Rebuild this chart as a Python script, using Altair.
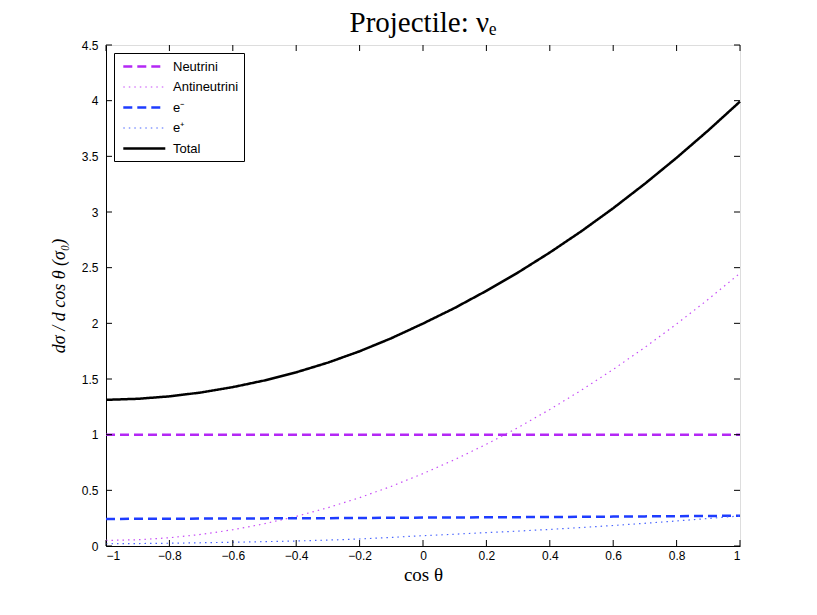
import altair as alt
import pandas as pd

cos_theta = [-1.0, -0.9, -0.8, -0.7, -0.6, -0.5, -0.4, -0.3, -0.2, -0.1, 0.0,
             0.1, 0.2, 0.3, 0.4, 0.5, 0.6, 0.7, 0.8, 0.9, 1.0]
neutrini = [1.0] * 21
antineutrini = [0.050, 0.056, 0.074, 0.104, 0.146, 0.200, 0.266, 0.344, 0.434, 0.536, 0.650,
                0.776, 0.914, 1.064, 1.226, 1.400, 1.586, 1.784, 1.994, 2.216, 2.450]
e_minus = [0.243, 0.244, 0.245, 0.246, 0.247, 0.248, 0.249, 0.250, 0.252, 0.253, 0.255,
           0.256, 0.258, 0.259, 0.261, 0.262, 0.264, 0.266, 0.268, 0.270, 0.272]
e_plus = [0.020, 0.022, 0.025, 0.029, 0.034, 0.039, 0.045, 0.053, 0.063, 0.077, 0.093,
          0.106, 0.120, 0.134, 0.149, 0.166, 0.184, 0.204, 0.225, 0.247, 0.270]
total = [1.313, 1.322, 1.344, 1.379, 1.427, 1.487, 1.560, 1.647, 1.749, 1.866, 1.998,
         2.138, 2.292, 2.457, 2.636, 2.828, 3.034, 3.254, 3.487, 3.733, 3.992]

series_names = ["Neutrini", "Antineutrini", "e\u207b", "e\u207a", "Total"]
series_values = [neutrini, antineutrini, e_minus, e_plus, total]
colors = ["#B428F5", "#C74DF7", "#1E3CFF", "#4A66FF", "#000000"]
dashes = [[9, 5], [1.5, 4], [9, 5], [1.5, 4], [1, 0]]
widths = [2.5, 1.2, 2.5, 1.2, 2.5]

x_ticks = [-1, -0.8, -0.6, -0.4, -0.2, 0, 0.2, 0.4, 0.6, 0.8, 1]
y_ticks = [0, 0.5, 1, 1.5, 2, 2.5, 3, 3.5, 4, 4.5]

rows = []
for name, vals in zip(series_names, series_values):
    for c, v in zip(cos_theta, vals):
        rows.append({"cos": c, "value": v, "series": name})
df = pd.DataFrame(rows)

W, H = 634, 501

xscale = alt.Scale(domain=[-1, 1], nice=False)
yscale = alt.Scale(domain=[0, 4.5], nice=False)

lines = alt.Chart(df).mark_line().encode(
    x=alt.X("cos:Q", scale=xscale,
            axis=alt.Axis(values=x_ticks, title="cos \u03b8", grid=False, tickSize=0,
                          format="~g",
                          labelFont="Liberation Sans", labelFontSize=12, labelColor="black",
                          labelPadding=4, domainColor="black",
                          titleFont="Liberation Serif", titleFontSize=19, titleFontWeight="normal",
                          titleColor="black", titlePadding=4)),
    y=alt.Y("value:Q", scale=yscale,
            axis=alt.Axis(values=y_ticks, title="d\u03c3 / d cos \u03b8   (\u03c3\u2080)", grid=False,
                          tickSize=0, format="~g",
                          labelFont="Liberation Sans", labelFontSize=12,
                          labelColor="black", labelPadding=8, domainColor="black",
                          titleFont="Liberation Serif", titleFontSize=18, titleFontStyle="italic",
                          titleFontWeight="normal", titleColor="black", titlePadding=13)),
    color=alt.Color("series:N", scale=alt.Scale(domain=series_names, range=colors),
                    legend=alt.Legend(title=None, orient="top-left", offset=8,
                                      strokeColor="black", fillColor="white", padding=5,
                                      symbolType="M-0.6,0H5.4", symbolSize=196,
                                      labelFont="Liberation Sans", labelFontSize=13,
                                      labelColor="black", rowPadding=5, cornerRadius=0,
                                      labelOffset=37)),
    strokeDash=alt.StrokeDash("series:N", scale=alt.Scale(domain=series_names, range=dashes),
                              legend=alt.Legend(title=None)),
    strokeWidth=alt.StrokeWidth("series:N",
                                scale=alt.Scale(type="ordinal", domain=series_names, range=widths),
                                legend=alt.Legend(title=None)),
)

tick_df_x = pd.DataFrame({"t": x_ticks})
tick_df_y = pd.DataFrame({"t": y_ticks})

xt_bottom = alt.Chart(tick_df_x).mark_rule(color="black", strokeWidth=1).encode(
    x=alt.X("t:Q", scale=xscale), y=alt.value(H), y2=alt.value(H - 6))
xt_top = alt.Chart(tick_df_x).mark_rule(color="black", strokeWidth=1).encode(
    x=alt.X("t:Q", scale=xscale), y=alt.value(0), y2=alt.value(6))
yt_left = alt.Chart(tick_df_y).mark_rule(color="black", strokeWidth=1).encode(
    y=alt.Y("t:Q", scale=yscale), x=alt.value(0), x2=alt.value(6))
yt_right = alt.Chart(tick_df_y).mark_rule(color="black", strokeWidth=1).encode(
    y=alt.Y("t:Q", scale=yscale), x=alt.value(W), x2=alt.value(W - 6))

chart = alt.layer(lines, xt_bottom, xt_top, yt_left, yt_right).properties(
    width=W, height=H,
    title=alt.Title("Projectile: \u03bd\u2091", font="Liberation Serif", fontSize=29,
                    fontWeight="normal", color="black", offset=1),
    autosize=alt.AutoSizeParams(type="none"),
    padding={"left": 98, "top": 37, "right": 69, "bottom": 61},
).configure_view(stroke="black", strokeWidth=1).configure(background="white")

chart.save("out.html", embed_options={"renderer": "svg", "actions": False})
